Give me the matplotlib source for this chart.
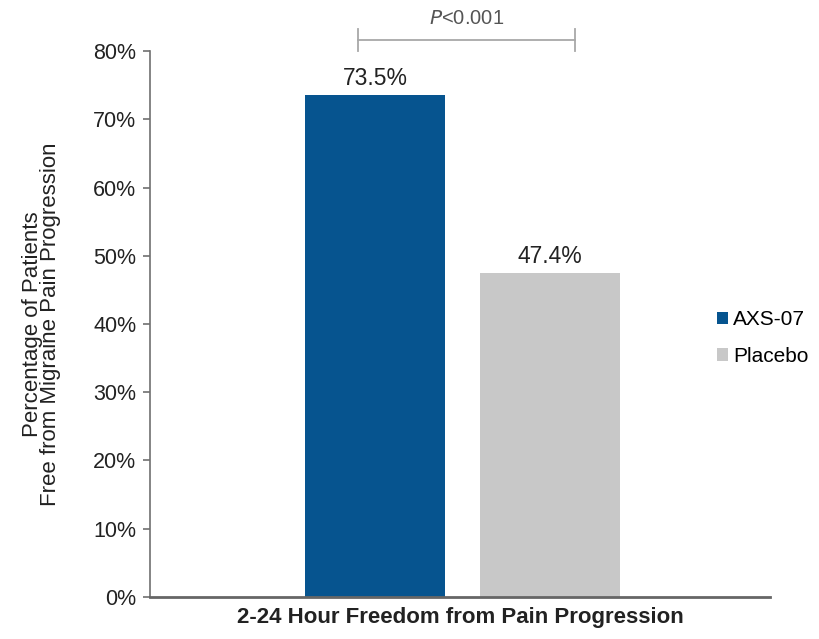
import matplotlib
matplotlib.use("Agg")
import matplotlib.pyplot as plt
import numpy as np

plt.rcParams.update({
    "font.family": ["Liberation Sans", "DejaVu Sans"],
    "font.size": 16,
})

# ---- data -------------------------------------------------------------------
groups = ["AXS-07", "Placebo"]
values = [0.735, 0.474]
value_labels = ["73.5%", "47.4%"]
colors = ["#06548F", "#C8C8C8"]
yticks = [0.0, 0.1, 0.2, 0.3, 0.4, 0.5, 0.6, 0.7, 0.8]
p_text = "$\\it{P}$<0.001"

fig = plt.figure(figsize=(8.2, 6.39), dpi=100)
ax = fig.add_axes([0.183, 0.066, 0.756, 0.854])

x = np.arange(len(groups))
bars = ax.bar(x, values, width=0.8, color=colors, label=groups, zorder=2)
for rect, lab in zip(bars, value_labels):
    ax.annotate(lab, xy=(rect.get_x() + rect.get_width() / 2, rect.get_height()),
                xytext=(0, 4), textcoords="offset points", ha="center",
                va="bottom", fontsize=16.5, color="#222222")

ax.set_xlim(-1.286, 2.257)
ax.set_ylim(0, 0.8)
ax.set_yticks(yticks)
ax.set_yticklabels([f"{int(round(t * 100))}%" for t in yticks], color="#222222")
ax.set_xticks([])
ax.tick_params(axis="y", direction="out", length=5, width=1.2, color="#707070",
               labelsize=15.5, pad=5)

for side in ("top", "right"):
    ax.spines[side].set_visible(False)
ax.spines["left"].set_color("#707070")
ax.spines["left"].set_linewidth(1.2)
ax.spines["bottom"].set_color("#666666")
ax.spines["bottom"].set_linewidth(2.0)

ax.set_xlabel("2-24 Hour Freedom from Pain Progression", fontweight="bold",
              fontsize=16, color="#222222", labelpad=7)
ax.set_ylabel("Percentage of Patients\nFree from Migraine Pain Progression",
              fontsize=16, color="#222222", labelpad=23, linespacing=0.8)

# significance bracket
yb = 0.816
x0, x1 = -0.097, 1.143
kw = dict(color="#A8A8A8", linewidth=1.3, clip_on=False)
ax.plot([x0, x1], [yb, yb], **kw)
ax.plot([x0, x0], [yb - 0.016, yb + 0.016], **kw)
ax.plot([x1, x1], [yb - 0.016, yb + 0.016], **kw)
ax.text((x0 + x1) / 2, yb + 0.018, p_text, ha="center", va="bottom",
        fontsize=14.5, color="#555555")

ax.legend(loc="center left", bbox_to_anchor=(0.874, 0.471),
          bbox_transform=fig.transFigure, frameon=False, borderpad=0,
          borderaxespad=0, handlelength=0.55, handleheight=0.55,
          handletextpad=0.25, labelspacing=0.85, fontsize=15)

fig.savefig("out.png", dpi=100)
